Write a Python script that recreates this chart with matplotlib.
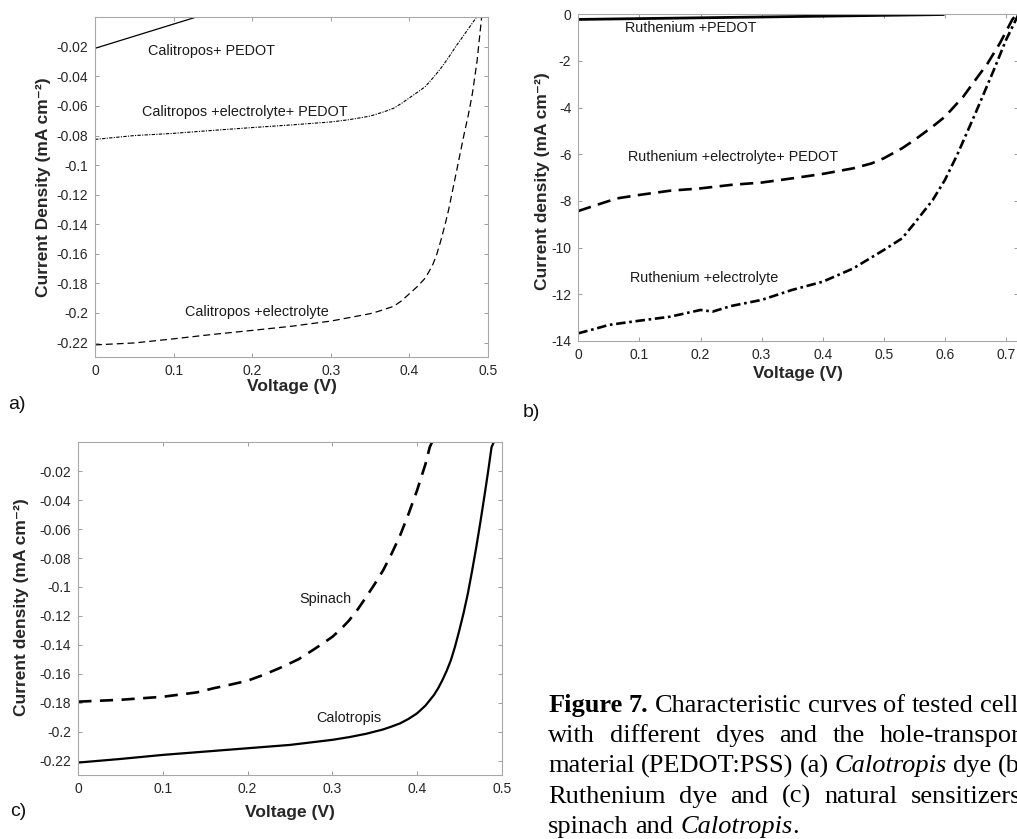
import numpy as np
import matplotlib
matplotlib.use("Agg")
import matplotlib.pyplot as plt

plt.rcParams['font.family'] = ['Liberation Sans', 'DejaVu Sans']

# (a) Calotropis dye
a_pedot_v = [0.0, 0.14]
a_pedot_j = [-0.021, 0.002]

a_el_pedot_v = [0.0, 0.05, 0.1, 0.15, 0.2, 0.25, 0.3, 0.32, 0.34, 0.35, 0.36, 0.37,
                0.38, 0.39, 0.4, 0.41, 0.42, 0.425, 0.43, 0.435, 0.44, 0.445, 0.45,
                0.455, 0.46, 0.465, 0.47, 0.475, 0.48, 0.486]
a_el_pedot_j = [-0.0826, -0.0800, -0.0785, -0.0765, -0.0746, -0.0728, -0.0708, -0.0695,
                -0.0678, -0.0668, -0.0652, -0.0635, -0.0615, -0.0582, -0.0545, -0.0508,
                -0.0470, -0.0440, -0.0410, -0.0378, -0.0345, -0.0308, -0.0270, -0.0230,
                -0.0190, -0.0153, -0.0115, -0.0078, -0.0040, 0.0005]

a_el_v = [0.0, 0.05, 0.1, 0.15, 0.2, 0.25, 0.3, 0.35, 0.36, 0.38, 0.39, 0.4, 0.41,
          0.42, 0.425, 0.43, 0.435, 0.44, 0.445, 0.45, 0.455, 0.46, 0.465, 0.47, 0.475,
          0.48, 0.486, 0.492]
a_el_j = [-0.2216, -0.2203, -0.2175, -0.2145, -0.2118, -0.2090, -0.2055, -0.2005,
          -0.1990, -0.1955, -0.1918, -0.1870, -0.1822, -0.1765, -0.1720, -0.1670,
          -0.1600, -0.1510, -0.1410, -0.1300, -0.1170, -0.1040, -0.0910, -0.0780,
          -0.0660, -0.0520, -0.0300, 0.0005]

# (b) Ruthenium dye
b_pedot_v = [0.0, 0.2, 0.4, 0.597]
b_pedot_j = [-0.22, -0.15, -0.08, -0.01]

b_el_pedot_v = [0.0, 0.03, 0.063, 0.1, 0.15, 0.2, 0.25, 0.3, 0.35, 0.4, 0.45, 0.48,
                0.5, 0.53, 0.55, 0.58, 0.6, 0.63, 0.65, 0.67, 0.69, 0.71, 0.716]
b_el_pedot_j = [-8.43, -8.17, -7.89, -7.74, -7.56, -7.46, -7.31, -7.21, -7.03, -6.84,
                -6.60, -6.39, -6.17, -5.74, -5.39, -4.81, -4.39, -3.53, -2.81, -2.10,
                -1.24, -0.24, -0.03]

b_el_v = [0.0, 0.03, 0.05, 0.1, 0.15, 0.2, 0.22, 0.25, 0.3, 0.35, 0.4, 0.45, 0.5,
          0.53, 0.55, 0.58, 0.6, 0.62, 0.65, 0.68, 0.7, 0.72]
b_el_j = [-13.67, -13.46, -13.31, -13.13, -12.96, -12.67, -12.74, -12.50, -12.24,
          -11.81, -11.46, -10.89, -10.10, -9.60, -8.96, -7.96, -7.10, -6.03, -4.24,
          -2.39, -1.10, -0.03]

# (c) natural sensitizers
c_spinach_v = [0.0, 0.05, 0.1, 0.14, 0.16, 0.18, 0.2, 0.22, 0.24, 0.26, 0.28, 0.3,
               0.31, 0.32, 0.33, 0.34, 0.35, 0.36, 0.37, 0.38, 0.39, 0.4, 0.41, 0.415,
               0.418]
c_spinach_j = [-0.1793, -0.1780, -0.1759, -0.1729, -0.1700, -0.1675, -0.1648, -0.1605,
               -0.1555, -0.1500, -0.1425, -0.1345, -0.1292, -0.1230, -0.1155, -0.1069,
               -0.0980, -0.0885, -0.0770, -0.0644, -0.0495, -0.0333, -0.0150, -0.0034,
               0.0005]

c_calo_v = [0.0, 0.05, 0.1, 0.15, 0.2, 0.25, 0.3, 0.32, 0.34, 0.36, 0.37, 0.38, 0.39,
            0.4, 0.41, 0.42, 0.425, 0.43, 0.435, 0.44, 0.445, 0.45, 0.455, 0.46, 0.465,
            0.47, 0.475, 0.48, 0.484, 0.488, 0.491]
c_calo_j = [-0.2214, -0.2189, -0.2161, -0.2138, -0.2115, -0.2092, -0.2057, -0.2038,
            -0.2015, -0.1985, -0.1965, -0.1943, -0.1912, -0.1874, -0.1820, -0.1747,
            -0.1700, -0.1644, -0.1580, -0.1506, -0.1410, -0.1299, -0.1180, -0.1046,
            -0.0890, -0.0724, -0.0545, -0.0356, -0.0200, -0.0034, 0.0005]

W, H = 1017, 839
fig = plt.figure(figsize=(W / 100, H / 100), dpi=100)


def px_axes(left, top, right, bottom):
    return fig.add_axes([left / W, 1 - bottom / H, (right - left) / W, (bottom - top) / H])


def style_axes(ax):
    for s in ax.spines.values():
        s.set_color('#a8a8a8')
        s.set_linewidth(0.8)
    ax.tick_params(direction='in', top=True, right=True, length=3, width=0.6,
                   color='#8c8c8c', labelsize=10, labelcolor='#262626', pad=5)


txt = dict(fontsize=10.4, color='#1a1a1a', va='center')
lab = dict(fontsize=12.5, fontweight='bold', color='#262626')
ylab_a = ['-0.22', '-0.2', '-0.18', '-0.16', '-0.14', '-0.12', '-0.1',
          '-0.08', '-0.06', '-0.04', '-0.02']

# ---- (a)
ax = px_axes(95, 17.3, 488, 357.3)
ax.plot(a_pedot_v, a_pedot_j, color='black', lw=0.9)
ax.plot(a_el_pedot_v, a_el_pedot_j, color='black', lw=0.8, dashes=(3.0, 1.2, 1.0, 1.2))
ax.plot(a_el_v, a_el_j, color='black', lw=0.9, dashes=(5.5, 3.2))
ax.set_xlim(0, 0.5)
ax.set_ylim(-0.23, 0)
ax.set_xticks(np.arange(0, 0.51, 0.1))
ax.set_xticklabels(['0', '0.1', '0.2', '0.3', '0.4', '0.5'])
ax.set_yticks(np.arange(-0.22, -0.01, 0.02))
ax.set_yticklabels(ylab_a)
style_axes(ax)
ax.text(0.0674, -0.0225, 'Calitropos+ PEDOT', **txt)
ax.text(0.0598, -0.0639, 'Calitropos +electrolyte+ PEDOT', **txt)
ax.text(0.1145, -0.1995, 'Calitropos +electrolyte', **txt)
ax.set_xlabel('Voltage (V)', **lab)
ax.xaxis.set_label_coords(0.5, -0.087)
ax.xaxis.label.set_va('center')
ax.set_ylabel('Current Density (mA cm⁻²)', **lab)
ax.yaxis.set_label_coords(-0.13, 0.5)
ax.yaxis.label.set_va('center')

# ---- (b)
ax = px_axes(578.3, 14.3, 578.3 + 0.72 * 611, 341)
ax.plot(b_pedot_v, b_pedot_j, color='black', lw=2.0)
ax.plot(b_el_pedot_v, b_el_pedot_j, color='black', lw=1.9, dashes=(5.0, 2.8))
ax.plot(b_el_v, b_el_j, color='black', lw=1.9, dashes=(3.6, 1.4, 1.0, 1.4))
ax.set_xlim(0, 0.72)
ax.set_ylim(-14, 0)
ax.set_xticks(np.arange(0, 0.71, 0.1))
ax.set_xticklabels(['0', '0.1', '0.2', '0.3', '0.4', '0.5', '0.6', '0.7'])
ax.set_yticks(np.arange(-14, 1, 2))
style_axes(ax)
ax.set_yticklabels([str(v) for v in range(-14, 1, 2)])
ax.text(0.0764, -0.59, 'Ruthenium +PEDOT', **txt)
ax.text(0.0813, -6.13, 'Ruthenium +electrolyte+ PEDOT', **txt)
ax.text(0.0846, -11.28, 'Ruthenium +electrolyte', **txt)
ax.set_xlabel('Voltage (V)', **lab)
ax.xaxis.set_label_coords(0.499, -0.098)
ax.xaxis.label.set_va('center')
ax.set_ylabel('Current density (mA cm⁻²)', **lab)
ax.yaxis.set_label_coords(-0.0825, 0.49)
ax.yaxis.label.set_va('center')

# ---- (c)
ax = px_axes(78.3, 442.3, 501.7, 775)
ax.plot(c_spinach_v, c_spinach_j, color='black', lw=1.9, dashes=(5.0, 3.2))
ax.plot(c_calo_v, c_calo_j, color='black', lw=1.6)
ax.set_xlim(0, 0.5)
ax.set_ylim(-0.23, 0)
ax.set_xticks(np.arange(0, 0.51, 0.1))
ax.set_xticklabels(['0', '0.1', '0.2', '0.3', '0.4', '0.5'])
ax.set_yticks(np.arange(-0.22, -0.01, 0.02))
ax.set_yticklabels(ylab_a)
style_axes(ax)
ax.text(0.2606, -0.1085, 'Spinach', **txt)
ax.text(0.2807, -0.1906, 'Calotropis', **txt)
ax.set_xlabel('Voltage (V)', **lab)
ax.xaxis.set_label_coords(0.5, -0.114)
ax.xaxis.label.set_va('center')
ax.set_ylabel('Current density (mA cm⁻²)', **lab)
ax.yaxis.set_label_coords(-0.135, 0.505)
ax.yaxis.label.set_va('center')

# panel letters
for s, x, y in [('a)', 8, 405), ('b)', 523, 413), ('c)', 10, 812)]:
    fig.text(x / W, 1 - y / H, s, fontsize=14, va='center', ha='left', color='#111111')

# caption, justified line by line
cap_lines = [
    [('Figure', 'bold'), ('7.', 'bold'), ('Characteristic', ''), ('curves', ''), ('of', ''),
     ('tested', ''), ('cells', '')],
    [('with', ''), ('different', ''), ('dyes', ''), ('and', ''), ('the', ''),
     ('hole-transport', '')],
    [('material', ''), ('(PEDOT:PSS)', ''), ('(a)', ''), ('Calotropis', 'italic'),
     ('dye', ''), ('(b)', '')],
    [('Ruthenium', ''), ('dye', ''), ('and', ''), ('(c)', ''), ('natural', ''),
     ('sensitizers:', '')],
    [('spinach', ''), ('and', ''), ('Calotropis', 'italic'), ('.', '')],
]
cap_x0, cap_w, cap_y0, cap_dy, cap_fs = 548.3, 480, 711.7, 30.3, 19
renderer = fig.canvas.get_renderer()
for i, words in enumerate(cap_lines):
    y = 1 - (cap_y0 + i * cap_dy) / H
    items = []
    for w, st in words:
        t = fig.text(0, y, w, fontsize=cap_fs, family='Liberation Serif', va='baseline',
                     fontweight='bold' if st == 'bold' else 'normal',
                     fontstyle='italic' if st == 'italic' else 'normal', color='black')
        items.append((t, t.get_window_extent(renderer).width))
    last = i == len(cap_lines) - 1
    if last:
        gaps = [cap_fs * 100 / 72 * 0.25] * (len(items) - 1)
        gaps[-1] = 0  # full stop sits right after the word
    else:
        g = (cap_w - sum(wd for _, wd in items)) / (len(items) - 1)
        gaps = [g] * (len(items) - 1)
    x = cap_x0
    for k, (t, wd) in enumerate(items):
        t.set_x(x / W)
        x += wd + (gaps[k] if k < len(gaps) else 0)

fig.savefig('out.png', dpi=100)
